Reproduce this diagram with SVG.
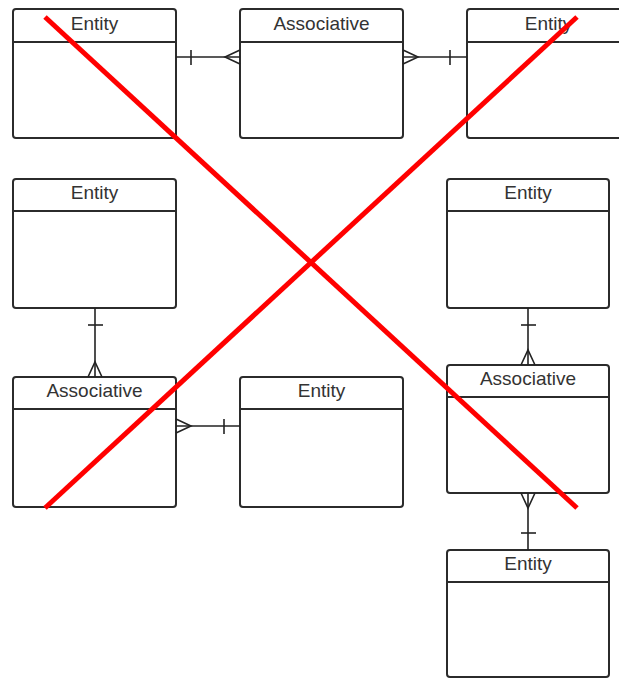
<svg xmlns="http://www.w3.org/2000/svg" width="619" height="679" viewBox="0 0 619 679">
<style>
.box{fill:#fff;stroke:#2b2b2b;stroke-width:2}
.hdr{stroke:#2b2b2b;stroke-width:2}
.lbl{font-family:"Liberation Sans",Arial,sans-serif;font-size:19px;fill:#333;text-anchor:middle}
.c{fill:none;stroke:#222;stroke-width:1.6}
.x{stroke:#ff0000;stroke-width:5;stroke-linecap:butt}
</style>
<rect width="619" height="679" fill="#fff"/>
<g id="entity-top-left">
<rect class="box" x="13" y="9" width="163" height="129" rx="3"/>
<line class="hdr" x1="13" y1="42" x2="176" y2="42"/>
<text class="lbl" x="94.5" y="30">Entity</text>
</g>
<g id="associative-top">
<rect class="box" x="240" y="9" width="163" height="129" rx="3"/>
<line class="hdr" x1="240" y1="42" x2="403" y2="42"/>
<text class="lbl" x="321.5" y="30">Associative</text>
</g>
<g id="entity-top-right">
<rect class="box" x="467" y="9" width="163" height="129" rx="3"/>
<line class="hdr" x1="467" y1="42" x2="630" y2="42"/>
<text class="lbl" x="548.5" y="30">Entity</text>
</g>
<g id="entity-mid-left">
<rect class="box" x="13" y="179" width="163" height="129" rx="3"/>
<line class="hdr" x1="13" y1="211" x2="176" y2="211"/>
<text class="lbl" x="94.5" y="199">Entity</text>
</g>
<g id="entity-mid-right">
<rect class="box" x="447" y="179" width="162" height="129" rx="3"/>
<line class="hdr" x1="447" y1="211" x2="609" y2="211"/>
<text class="lbl" x="528" y="199">Entity</text>
</g>
<g id="associative-lower-left">
<rect class="box" x="13" y="377" width="163" height="130" rx="3"/>
<line class="hdr" x1="13" y1="409" x2="176" y2="409"/>
<text class="lbl" x="94.5" y="397">Associative</text>
</g>
<g id="entity-lower-middle">
<rect class="box" x="240" y="377" width="163" height="130" rx="3"/>
<line class="hdr" x1="240" y1="409" x2="403" y2="409"/>
<text class="lbl" x="321.5" y="397">Entity</text>
</g>
<g id="associative-right">
<rect class="box" x="447" y="365" width="162" height="128" rx="3"/>
<line class="hdr" x1="447" y1="397" x2="609" y2="397"/>
<text class="lbl" x="528" y="385">Associative</text>
</g>
<g id="entity-bottom-right">
<rect class="box" x="447" y="550" width="162" height="127" rx="3"/>
<line class="hdr" x1="447" y1="582" x2="609" y2="582"/>
<text class="lbl" x="528" y="570">Entity</text>
</g>
<g id="connectors">
<!-- top left: entity -> associative -->
<line class="c" x1="176" y1="57" x2="240" y2="57"/>
<line class="c" x1="191" y1="50" x2="191" y2="65"/>
<path class="c" d="M240 50 L225 57 L240 64"/>
<!-- top right: associative -> entity -->
<line class="c" x1="403" y1="57" x2="467" y2="57"/>
<line class="c" x1="450" y1="50" x2="450" y2="65"/>
<path class="c" d="M403 50 L418 57 L403 64"/>
<!-- left vertical -->
<line class="c" x1="95" y1="308" x2="95" y2="377"/>
<line class="c" x1="88" y1="325" x2="103" y2="325"/>
<path class="c" d="M88 377 L95 362 L102 377"/>
<!-- lower horizontal -->
<line class="c" x1="176" y1="426" x2="240" y2="426"/>
<line class="c" x1="224" y1="419" x2="224" y2="434"/>
<path class="c" d="M176 419 L191 426 L176 433"/>
<!-- right vertical upper -->
<line class="c" x1="528" y1="308" x2="528" y2="365"/>
<line class="c" x1="521" y1="325" x2="536" y2="325"/>
<path class="c" d="M521 365 L528 350 L535 365"/>
<!-- right vertical lower -->
<line class="c" x1="528" y1="493" x2="528" y2="550"/>
<line class="c" x1="521" y1="533" x2="536" y2="533"/>
<path class="c" d="M521 493 L528 508 L535 493"/>
</g>
<g id="cross">
<line class="x" x1="45" y1="17" x2="577" y2="508"/>
<line class="x" x1="577" y1="17" x2="45" y2="508"/>
</g>
</svg>
